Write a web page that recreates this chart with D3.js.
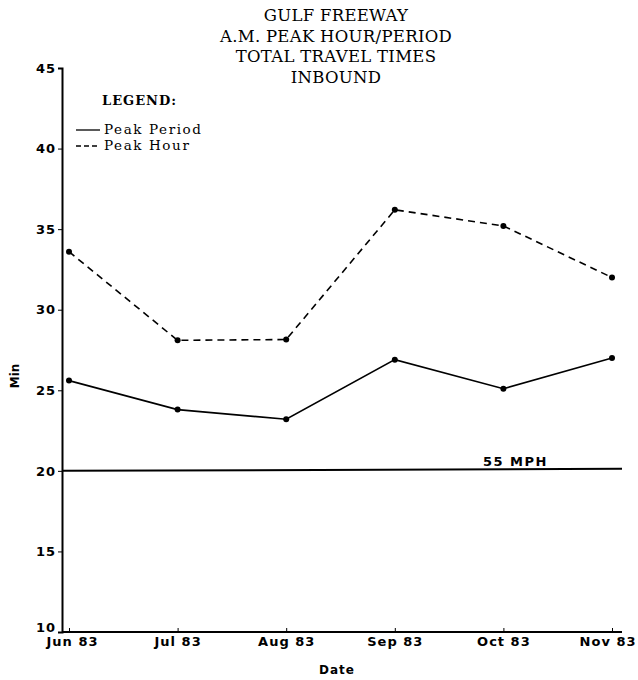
<!DOCTYPE html>
<html><head><meta charset="utf-8">
<script src="https://cdn.jsdelivr.net/npm/d3@7/dist/d3.min.js"></script>
<style>body{margin:0;background:#fff}</style>
</head><body>
<script>
const months = ["Jun 83","Jul 83","Aug 83","Sep 83","Oct 83","Nov 83"];
const peakPeriod = [25.6, 23.8, 23.2, 26.9, 25.1, 27.0];
const peakHour = [33.6, 28.1, 28.15, 36.2, 35.2, 32.0];
const yTicks = [10,15,20,25,30,35,40,45];
const speedRef = 20;
const titleLines = ["GULF FREEWAY","A.M. PEAK HOUR/PERIOD","TOTAL TRAVEL TIMES","INBOUND"];

const W=638,H=680;
const svg=d3.select("body").append("svg").attr("width",W).attr("height",H);
const x=d3.scalePoint().domain(months).range([69,612]);
const y=d3.scaleLinear().domain([10,45]).range([632,68]);
const serif="'DejaVu Serif', serif";
const bold="'DejaVu Sans', sans-serif";

// title
svg.append("g").selectAll("text").data(titleLines).join("text")
  .attr("x",336).attr("y",(d,i)=>21+i*20.5).attr("text-anchor","middle")
  .style("font-family",serif).style("font-size","16.5px").style("letter-spacing","0.3px").text(d=>d);

// y axis
const ya=svg.append("g").attr("transform","translate(62,0)")
  .call(d3.axisLeft(y).tickValues(yTicks).tickSize(4).tickPadding(2));
ya.select(".domain").attr("stroke-width",2);
ya.selectAll("text").style("font-family",bold).style("font-weight","bold").style("font-size","13px").style("letter-spacing","1px");
ya.selectAll(".tick text").filter(d=>d===10).attr("dy","-0.05em");

// x axis
const xa=svg.append("g").attr("transform","translate(0,632)")
  .call(d3.axisBottom(x).tickSize(-4).tickSizeOuter(0).tickPadding(5));
xa.select(".domain").attr("d","M62,0H622").attr("stroke-width",2);
xa.selectAll("text").style("font-family",bold).style("font-weight","bold").style("font-size","13px").style("letter-spacing","1px");
xa.selectAll(".tick text").filter((d,i)=>i===5).attr("text-anchor","end").attr("dx",24);
xa.selectAll(".tick text").filter((d,i)=>i===0).attr("dx",3);

// axis titles
svg.append("text").attr("transform","translate(19,376) rotate(-90)").attr("text-anchor","middle")
  .style("font-family",bold).style("font-weight","bold").style("font-size","12px").text("Min");
svg.append("text").attr("x",337).attr("y",674).attr("text-anchor","middle")
  .style("font-family",bold).style("font-weight","bold").style("font-size","12px").style("letter-spacing","1px").text("Date");

// 55 MPH reference
svg.append("line").attr("x1",62).attr("x2",622).attr("y1",y(speedRef)).attr("y2",y(speedRef)-2)
  .attr("stroke","#000").attr("stroke-width",2);
svg.append("text").attr("x",483).attr("y",y(speedRef)-5)
  .style("font-family",bold).style("font-weight","bold").style("font-size","13px").style("letter-spacing","1.5px").text("55 MPH");

// lines
const line=d3.line().x((d,i)=>x(months[i])).y(d=>y(d));
svg.append("path").datum(peakPeriod).attr("d",line).attr("fill","none").attr("stroke","#000").attr("stroke-width",1.6);
svg.append("path").datum(peakHour).attr("d",line).attr("fill","none").attr("stroke","#000").attr("stroke-width",1.6).attr("stroke-dasharray","7,5");
[peakPeriod,peakHour].forEach(s=>{
  svg.append("g").selectAll("circle").data(s).join("circle")
    .attr("cx",(d,i)=>x(months[i])).attr("cy",d=>y(d)).attr("r",3).attr("fill","#000");
});

// legend
svg.append("text").attr("x",102).attr("y",105).style("font-family",serif).style("font-weight","bold").style("font-size","13px").style("letter-spacing","1px").text("LEGEND:");
const leg=[{t:"Peak Period",dash:null,y:130},{t:"Peak Hour",dash:"5,3",y:146}];
leg.forEach(l=>{
  svg.append("line").attr("x1",76).attr("x2",100).attr("y1",l.y).attr("y2",l.y).attr("stroke","#000").attr("stroke-width",1.3).attr("stroke-dasharray",l.dash);
  svg.append("text").attr("x",104).attr("y",l.y+4).style("font-family",serif).style("font-size","13.5px").style("letter-spacing","1.6px").text(l.t);
});
</script>
</body></html>
